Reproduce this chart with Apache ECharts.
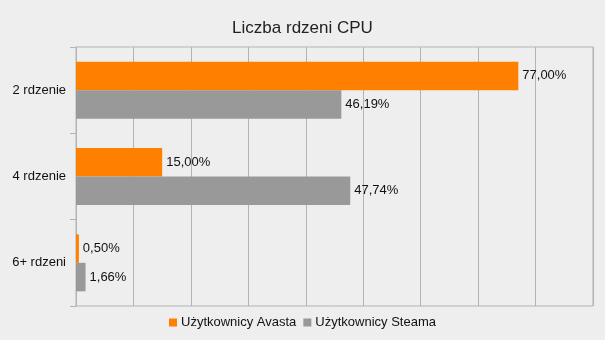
<!DOCTYPE html>
<html>
<head>
<meta charset="utf-8">
<script src="https://cdn.jsdelivr.net/npm/echarts@6/dist/echarts.min.js"></script>
<style>
html,body{margin:0;padding:0;background:#eeeeee;}
#chart{width:605px;height:340px;}
</style>
</head>
<body>
<div id="chart"></div>
<script>
// Share of users by CPU core count
const categories = ['2 rdzenie', '4 rdzenie', '6+ rdzeni'];
const avastUsers = [77.00, 15.00, 0.50];
const steamUsers = [46.19, 47.74, 1.66];
const seriesNames = ['Użytkownicy Avasta', 'Użytkownicy Steama'];

const fmt = p => p.value.toFixed(2).replace('.', ',') + '%';
const font = 'Liberation Sans, Arial, sans-serif';

const chart = echarts.init(document.getElementById('chart'));
chart.setOption({
  backgroundColor: '#eeeeee',
  animation: false,
  textStyle: { fontFamily: font },
  title: {
    text: 'Liczba rdzeni CPU',
    left: 'center',
    top: 15,
    textStyle: { fontFamily: font, fontSize: 17, fontWeight: 'normal', color: '#222' }
  },
  legend: {
    bottom: 6,
    left: 'center',
    itemWidth: 8,
    itemHeight: 8,
    itemGap: 7,
    icon: 'rect',
    textStyle: { fontFamily: font, fontSize: 13, color: '#111', padding: [0, 0, 0, -1] },
    data: seriesNames
  },
  grid: {
    left: 76, right: 12, top: 47, bottom: 34,
    show: true, borderColor: '#b3b3b3', borderWidth: 1
  },
  xAxis: {
    type: 'value',
    min: 0, max: 90, interval: 10,
    axisLabel: { show: false },
    axisLine: { show: false },
    axisTick: { show: false },
    splitLine: { lineStyle: { color: '#b3b3b3' } }
  },
  yAxis: {
    type: 'category',
    inverse: true,
    data: categories,
    axisLine: { show: true, lineStyle: { color: '#b3b3b3' } },
    axisTick: { show: true, length: 6, lineStyle: { color: '#b3b3b3' } },
    axisLabel: { fontFamily: font, fontSize: 13, color: '#111', margin: 10 }
  },
  series: [
    {
      name: seriesNames[0], type: 'bar', data: avastUsers,
      itemStyle: { color: '#ff8000' },
      barGap: '0%', barCategoryGap: '34%',
      label: { show: true, position: 'right', formatter: fmt, fontFamily: font, fontSize: 13, color: '#111', distance: 4 }
    },
    {
      name: seriesNames[1], type: 'bar', data: steamUsers,
      itemStyle: { color: '#999999' },
      barGap: '0%', barCategoryGap: '34%',
      label: { show: true, position: 'right', formatter: fmt, fontFamily: font, fontSize: 13, color: '#111', distance: 4 }
    }
  ]
});
</script>
</body>
</html>
